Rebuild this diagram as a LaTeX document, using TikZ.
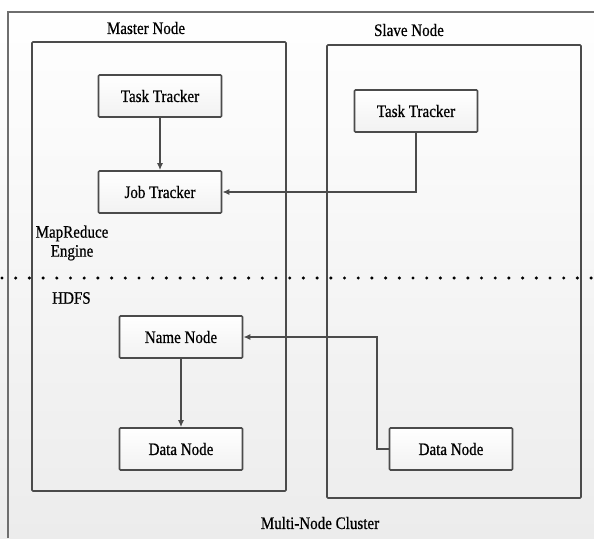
\documentclass[tikz,border=0pt]{standalone}
\usepackage{fontspec}
\setmainfont{Liberation Serif}
\newfontfamily\narrowfont[FakeStretch=0.86, FakeBold=0.6]{Liberation Serif}
\usetikzlibrary{calc, arrows.meta, positioning}

\definecolor{frameGray}{RGB}{110,110,110}
\definecolor{boxGray}{RGB}{75,75,75}
\definecolor{bgBottom}{RGB}{236,236,236}

\tikzset{
    unitBox/.style={draw=boxGray, line width=1.7pt, rounded corners=1pt,
        top color=white, bottom color=bgBottom!70,
        minimum width=123pt, minimum height=42pt,
        font=\narrowfont\fontsize{17.5}{19}\selectfont},
    nodeFrame/.style={draw=boxGray, line width=1.6pt, rounded corners=1pt},
    plainLabel/.style={font=\narrowfont\fontsize{17.5}{19}\selectfont, align=center, inner sep=1pt},
    linkArrow/.style={draw=boxGray, line width=1.5pt, -{Latex[length=7pt,width=6pt]}},
}

\begin{document}
\begin{tikzpicture}[x=1pt, y=-1pt]

\useasboundingbox (0,0) rectangle (594,538);
\shade[top color=white, bottom color=bgBottom] (0,0) rectangle (594,538);

% outer cluster frame
\draw[frameGray, line width=1.5pt] (8,538) -- (8,12) -- (594,12);

% master and slave frames
\draw[nodeFrame] (32,42) rectangle (286,491);
\draw[nodeFrame] (327,45) rectangle (581,498);
\node[plainLabel] (masterLabel) at (146,28) {Master Node};
\node[plainLabel] (slaveLabel) at (409,30) {Slave Node};

% MapReduce layer
\node[unitBox] (mTask) at (160,96) {Task Tracker};
\node[unitBox] (mJob) at (160,192) {Job Tracker};
\node[unitBox] (sTask) at (416,111) {Task Tracker};
\node[plainLabel] (mrLabel) at (72,243) {MapReduce\\Engine};

\draw[linkArrow] (mTask) -- (mJob);
\draw[linkArrow] (sTask.south) |- (mJob.east);

% layer separator
\draw[black, line width=3.4pt, line cap=round, dash pattern=on 0pt off 13.7pt]
    (2,278) -- (594,278);

% HDFS layer
\node[plainLabel, anchor=west] (hdfsLabel) at (51,298) {HDFS};
\node[unitBox] (mName) at (181,337) {Name Node};
\node[unitBox] (mData) at (181,449) {Data Node};
\node[unitBox] (sData) at (451,449) {Data Node};
\coordinate (sBend) at (377,449);

\draw[linkArrow] (mName) -- (mData);
\draw[linkArrow] (sData.west) -- (sBend) |- (mName.east);

\node[plainLabel] (clusterLabel) at (320,523) {Multi-Node Cluster};

\end{tikzpicture}
\end{document}
